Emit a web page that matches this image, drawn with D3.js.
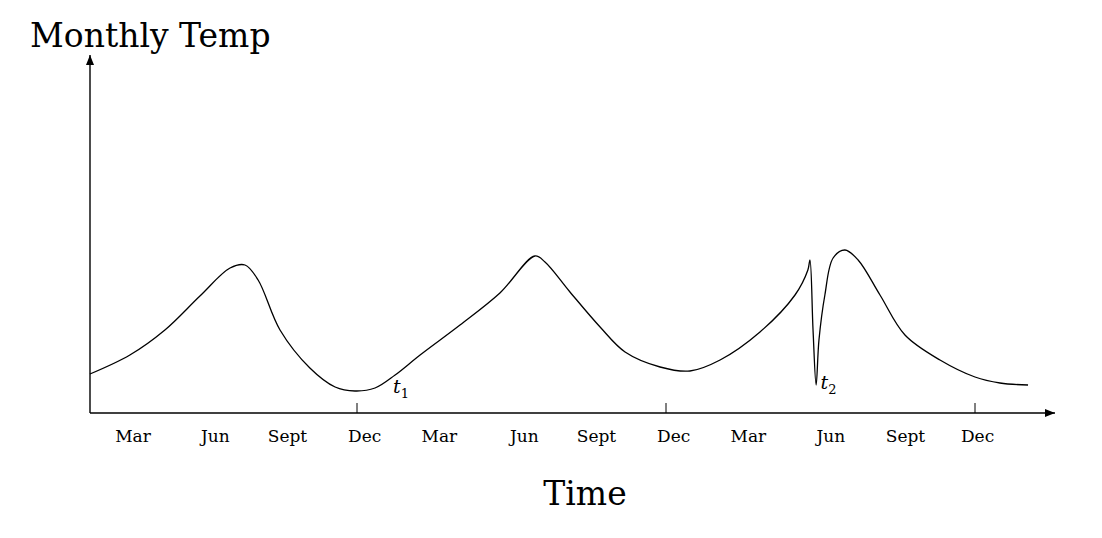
<!DOCTYPE html>
<html><head><meta charset="utf-8">
<script src="https://cdn.jsdelivr.net/npm/d3@7"></script>
<style>body{margin:0;background:#fff}</style></head>
<body><svg id="c" width="1102" height="538"></svg>
<script>
const months = [1.63,3.18,4.54,5.90,7.07,7.65,8.16,9.01,10.17,11.15,11.92,12.70,13.48,14.45,16.0,17.55,18.91,19.30,20.27,21.44,22.41,23.77,24.93,26.10,27.65,29.01,29.51,29.59,29.71,29.83,29.94,30.17,30.49,30.95,31.46,32.31,33.28,34.64,36.0,36.97,38.06];
const temps = [39,58,83,117,145,148,133,83,45,26,22,25,38,58,88,120,157,151,121,86,61,46,42,53,81,118,143,153,83,28,73,118,155,163,153,118,78,53,36,30,28];
const tickLabels = ["Mar","Jun","Sept","Dec","Mar","Jun","Sept","Dec","Mar","Jun","Sept","Dec"];
const labelMonths = [3.3,6.5,9.3,12.3,15.2,18.5,21.3,24.3,27.2,30.4,33.3,36.1];
const tickMonths = [12,24,36];
const annotations = [{m:13.4,t:22,name:"t",sub:"1"},{m:30.0,t:26,name:"t",sub:"2"}];

const svg = d3.select("#c");
const font = "'DejaVu Serif',serif";
const x = d3.scaleLinear().domain([12,36]).range([357,975]);
const y = d3.scaleLinear().domain([0,358]).range([413,55]);
const x0 = x.invert(90), xEnd = x.invert(1055);

svg.append("defs").append("marker").attr("id","ar").attr("viewBox","0 0 10 10")
 .attr("refX",10).attr("refY",5).attr("markerWidth",10).attr("markerHeight",10)
 .attr("markerUnits","userSpaceOnUse").attr("orient","auto")
 .append("path").attr("d","M0,1L10,5L0,9Z").attr("fill","#000");

svg.append("line").attr("x1",x(x0)).attr("y1",y(0)).attr("x2",x(xEnd)).attr("y2",y(0))
 .attr("stroke","#000").attr("stroke-width",1.4).attr("marker-end","url(#ar)");
svg.append("line").attr("x1",x(x0)).attr("y1",y(0)).attr("x2",x(x0)).attr("y2",y(358))
 .attr("stroke","#000").attr("stroke-width",1.4).attr("marker-end","url(#ar)");

svg.selectAll(".tk").data(tickMonths).join("line")
 .attr("x1",d=>x(d)).attr("x2",d=>x(d)).attr("y1",y(0)).attr("y2",y(0)-10)
 .attr("stroke","#000").attr("stroke-width",1);

svg.selectAll(".lb").data(tickLabels).join("text")
 .attr("x",(d,i)=>x(labelMonths[i])).attr("y",442).attr("text-anchor","middle")
 .attr("font-family",font).attr("font-size",17).text(d=>d);

const pts = months.map((m,i)=>[m,temps[i]]);
svg.append("path").datum(pts)
 .attr("d",d3.line().x(d=>x(d[0])).y(d=>y(d[1])).curve(d3.curveCatmullRom.alpha(0.5)))
 .attr("fill","none").attr("stroke","#000").attr("stroke-width",1.3);

annotations.forEach(a=>{
 const t = svg.append("text").attr("x",x(a.m)).attr("y",y(a.t)+2)
  .attr("font-family",font).attr("font-size",19).attr("font-style","italic");
 t.append("tspan").text(a.name);
 t.append("tspan").attr("dy",5).attr("font-size",13).attr("font-style","normal").text(a.sub);
});

svg.append("text").attr("x",30).attr("y",47).attr("font-family",font).attr("font-size",33).text("Monthly Temp");
svg.append("text").attr("x",585).attr("y",505).attr("text-anchor","middle").attr("font-family",font).attr("font-size",33).text("Time");
</script></body></html>
